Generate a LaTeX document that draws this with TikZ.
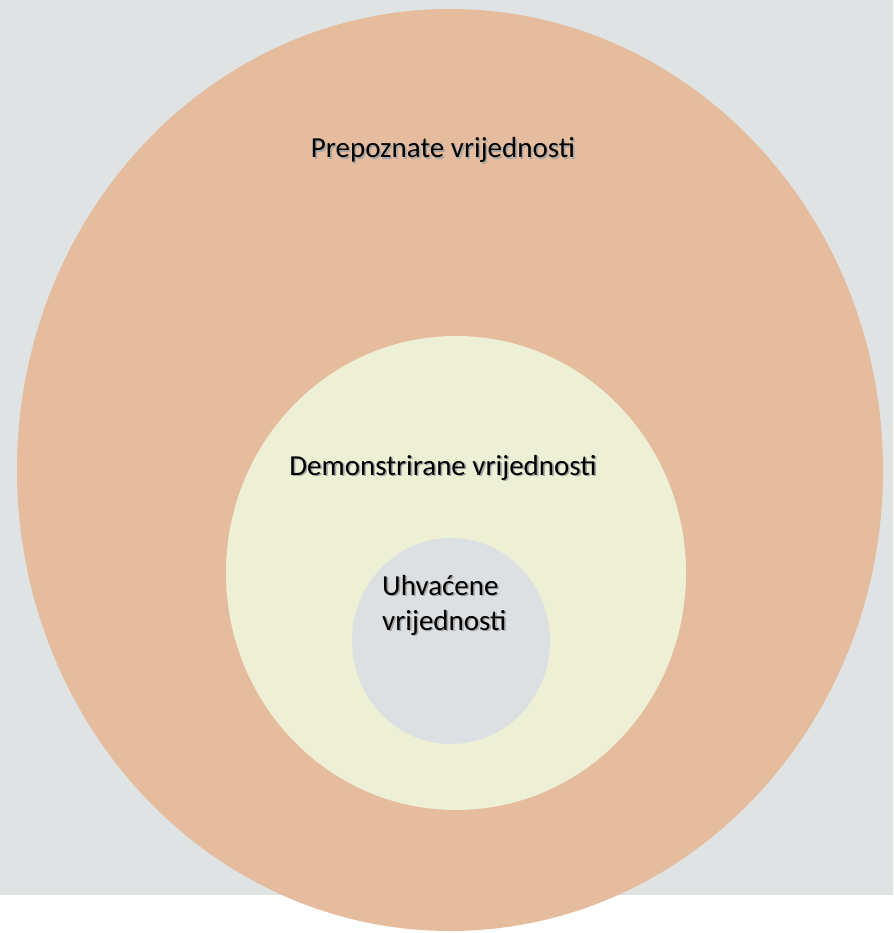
\documentclass[tikz,border=0pt]{standalone}
\usepackage{fontspec}
\setmainfont{Carlito}
\definecolor{bggray}{HTML}{DFE3E4}
\definecolor{outerc}{HTML}{E5BC9D}
\definecolor{midc}{HTML}{EEF0D5}
\definecolor{innerc}{HTML}{DDE0E3}
\newcommand{\shtxt}[1]{\rlap{\kern1.6pt\raisebox{-1.8pt}{\textcolor{black!35}{#1}}}#1}
\begin{document}
\begin{tikzpicture}[x=1pt,y=-1pt,
  lbl/.style={font=\fontsize{29}{35}\selectfont, text=black, inner sep=0pt}]
\useasboundingbox (0,0) rectangle (893,933);
\fill[white] (0,0) rectangle (893,933);
\fill[bggray] (0,0) rectangle (893,895);
\fill[outerc] (450,470) ellipse [x radius=433, y radius=461];
\coordinate (outer) at (450,470);
\fill[midc] (456,573) ellipse [x radius=230, y radius=237];
\coordinate (mid) at (456,573);
\fill[innerc] (451,641) ellipse [x radius=99, y radius=103];
\coordinate (inner) at (451,641);
\node[lbl, anchor=base] (t1) at (443,158) {\shtxt{Prepoznate vrijednosti}};
\node[lbl, anchor=base] (t2) at (443,475) {\shtxt{Demonstrirane vrijednosti}};
\node[lbl, anchor=base west, align=left] (t3) at (382,630) {\shtxt{Uhvaćene}\\\shtxt{vrijednosti}};
\end{tikzpicture}
\end{document}
